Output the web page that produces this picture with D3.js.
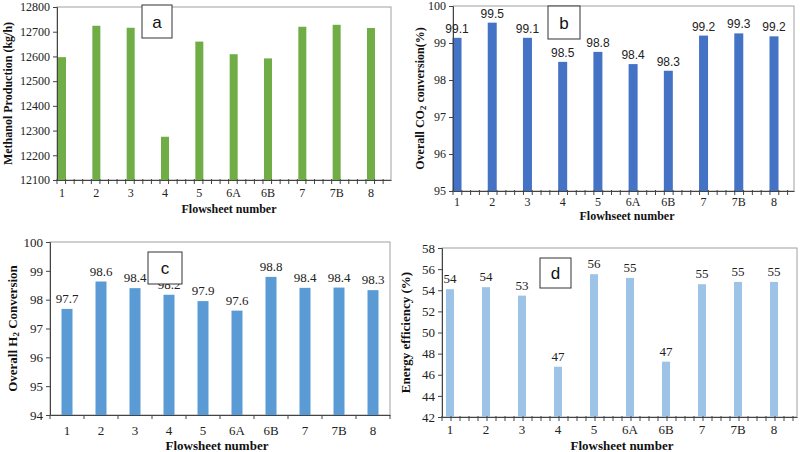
<!DOCTYPE html>
<html>
<head>
<meta charset="utf-8">
<script src="https://cdn.jsdelivr.net/npm/d3@7"></script>
<style>
  body { margin: 0; background: #fff; }
  svg { display: block; }
  .serif { font-family: "Liberation Serif", "Times New Roman", serif; }
  .sans { font-family: "Liberation Sans", Arial, sans-serif; }
</style>
</head>
<body>
<svg id="chart" width="800" height="452"></svg>
<script>
// flowsheet categories shared by all four panels
var flowsheets = ['1', '2', '3', '4', '5', '6A', '6B', '7', '7B', '8'];

// panel a - methanol production (kg/h)
var methanol = [12597, 12724, 12716, 12275, 12660, 12609, 12592, 12720, 12728, 12715];
// panel b - overall CO2 conversion (%)
var co2Conv = [99.14, 99.55, 99.14, 98.49, 98.76, 98.43, 98.25, 99.2, 99.26, 99.18];
var co2Labels = ['99.1', '99.5', '99.1', '98.5', '98.8', '98.4', '98.3', '99.2', '99.3', '99.2'];
// panel c - overall H2 conversion
var h2Conv = [97.68, 98.63, 98.4, 98.17, 97.95, 97.62, 98.79, 98.41, 98.42, 98.33];
var h2Labels = ['97.7', '98.6', '98.4', '98.2', '97.9', '97.6', '98.8', '98.4', '98.4', '98.3'];
// panel d - energy efficiency (%)
var energyEff = [54.1, 54.29, 53.49, 46.76, 55.52, 55.17, 47.24, 54.57, 54.79, 54.79];
var energyLabels = ['54', '54', '53', '47', '56', '55', '47', '55', '55', '55'];

var yTicksA = d3.range(12100, 12801, 100);
var yTicksB = d3.range(95, 101, 1);
var yTicksC = d3.range(94, 101, 1);
var yTicksD = d3.range(42, 59, 2);

var svg = d3.select('#chart');

/**
 * Draws one bar panel
 * @param  {Object} o - panel options
 */
function drawPanel (o) {
  var g = svg.append('g');

  var y = d3.scaleLinear().domain(o.yDomain).range([o.bottom, o.top]);
  var x;
  if (o.band) {
    var band = d3.scaleBand().domain(flowsheets).range([o.left, o.right]);
    x = function (d, i) { return band(flowsheets[i]) + band.bandwidth() / 2; };
  } else {
    var lin = d3.scaleLinear().domain(o.xDomain).range([o.left, o.right]);
    x = function (d, i) { return lin(i); };
  }

  // frame
  g.append('rect')
      .attr('x', o.left).attr('y', o.top)
      .attr('width', o.right - o.left).attr('height', o.bottom - o.top)
      .attr('fill', 'none').attr('stroke', '#a0a0a0').attr('stroke-width', 1);

  // bars
  g.selectAll('rect.bar')
      .data(o.values)
      .enter()
      .append('rect')
      .attr('class', 'bar')
      .attr('x', function (d, i) { return x(d, i) - o.barWidth / 2; })
      .attr('y', function (d) { return y(d); })
      .attr('width', o.barWidth)
      .attr('height', function (d) { return o.bottom - y(d); })
      .attr('fill', o.color);

  // y axis
  var yAxis = d3.axisLeft(y).tickValues(o.yTicks).tickSize(4).tickPadding(3)
      .tickFormat(d3.format('d'));
  var ya = g.append('g')
      .attr('transform', 'translate(' + o.left + ',0)')
      .call(yAxis);
  ya.select('.domain').attr('stroke', '#444');
  ya.selectAll('.tick line').attr('stroke', '#444');
  ya.selectAll('text')
      .attr('class', 'serif')
      .style('font-size', o.tickFont + 'px')
      .attr('fill', '#222');

  // x axis
  var xa = g.append('g')
      .attr('transform', 'translate(0,' + o.bottom + ')');
  if (o.band) {
    xa.call(d3.axisBottom(band).tickSize(0).tickPadding(11));
    xa.selectAll('.tick text').attr('x', 0);
    var edges = flowsheets.map(function (f) { return band(f); }).concat([o.right]);
    xa.selectAll('line.minor')
        .data(edges).enter().append('line')
        .attr('x1', function (d) { return d; }).attr('x2', function (d) { return d; })
        .attr('y1', 0).attr('y2', 4).attr('stroke', '#444');
  } else {
    var minor = d3.range(o.xDomain[0], o.xDomain[1], 0.25);
    xa.call(d3.axisBottom(lin).tickValues([]).tickSizeOuter(0));
    xa.selectAll('line.minor')
        .data(minor).enter().append('line')
        .attr('x1', function (d) { return lin(d); }).attr('x2', function (d) { return lin(d); })
        .attr('y1', -1).attr('y2', 4).attr('stroke', '#444');
    xa.selectAll('text.cat')
        .data(flowsheets).enter().append('text')
        .attr('class', 'cat serif')
        .attr('x', function (d, i) { return lin(i); })
        .attr('y', o.catOffset)
        .attr('text-anchor', 'middle')
        .style('font-size', o.tickFont + 'px')
        .attr('fill', '#222')
        .text(function (d) { return d; });
  }
  xa.select('.domain').attr('stroke', '#444');
  xa.selectAll('.tick text')
      .attr('class', 'serif')
      .style('font-size', o.tickFont + 'px')
      .attr('fill', '#222');

  // value labels
  if (o.labels) {
    g.selectAll('text.val')
        .data(o.labels)
        .enter()
        .append('text')
        .attr('class', 'val ' + o.labelFamily)
        .attr('x', function (d, i) { return x(d, i); })
        .attr('y', function (d, i) { return y(o.values[i]) - o.labelGap; })
        .attr('text-anchor', 'middle')
        .style('font-size', o.labelFont + 'px')
        .attr('fill', '#222')
        .text(function (d) { return d; });
  }

  // axis titles
  g.append('text')
      .attr('class', 'serif')
      .attr('transform', 'translate(' + o.yTitleX + ',' + ((o.top + o.bottom) / 2) + ') rotate(-90)')
      .attr('text-anchor', 'middle')
      .style('font-size', o.titleFont + 'px')
      .style('font-weight', 'bold')
      .attr('fill', '#111')
      .html(o.yTitle);

  g.append('text')
      .attr('class', 'serif')
      .attr('x', o.xTitleX)
      .attr('y', o.xTitleY)
      .attr('text-anchor', 'middle')
      .style('font-size', o.titleFont + 'px')
      .style('font-weight', 'bold')
      .attr('fill', '#111')
      .text(o.xTitle);

  // panel letter box
  g.append('rect')
      .attr('x', o.box[0]).attr('y', o.box[1])
      .attr('width', o.box[2]).attr('height', o.box[3])
      .attr('fill', '#fff').attr('stroke', '#333').attr('stroke-width', 1);
  g.append('text')
      .attr('class', 'sans')
      .attr('x', o.box[0] + o.box[2] / 2)
      .attr('y', o.box[1] + o.box[3] / 2 + 6)
      .attr('text-anchor', 'middle')
      .style('font-size', '17px')
      .attr('fill', '#111')
      .text(o.letter);
}

drawPanel({
  values: methanol, color: '#70ad47', barWidth: 8,
  left: 57, right: 391, top: 7, bottom: 180,
  xDomain: [-0.146, 9.583], yDomain: [12100, 12800], yTicks: yTicksA,
  tickFont: 12, catOffset: 17, titleFont: 12,
  yTitle: 'Methanol Production (kg/h)', yTitleX: 12,
  xTitle: 'Flowsheet number', xTitleX: 229, xTitleY: 213,
  box: [142, 5, 30, 33], letter: 'a'
});

drawPanel({
  values: co2Conv, color: '#4472c4', barWidth: 9,
  left: 453, right: 794, top: 6, bottom: 191,
  xDomain: [-0.114, 9.568], yDomain: [95, 100], yTicks: yTicksB,
  tickFont: 12, catOffset: 15, titleFont: 12,
  labels: co2Labels, labelFamily: 'sans', labelFont: 12, labelGap: 5,
  yTitle: 'Overall CO<tspan baseline-shift="-20%" font-size="9">2</tspan> conversion(%)', yTitleX: 424,
  xTitle: 'Flowhseet number', xTitleX: 627, xTitleY: 220,
  box: [548, 6, 32, 33], letter: 'b'
});

drawPanel({
  values: h2Conv, color: '#5b9bd5', barWidth: 11, band: true,
  left: 50, right: 390, top: 242, bottom: 415,
  yDomain: [94, 100], yTicks: yTicksC,
  tickFont: 13, titleFont: 13,
  labels: h2Labels, labelFamily: 'serif', labelFont: 13, labelGap: 6,
  yTitle: 'Overall H<tspan baseline-shift="-20%" font-size="9">2</tspan> Conversion', yTitleX: 17,
  xTitle: 'Flowsheet number', xTitleX: 217, xTitleY: 450,
  box: [148, 252, 34, 32], letter: 'c'
});

drawPanel({
  values: energyEff, color: '#9dc3e6', barWidth: 8,
  left: 442, right: 797, top: 248, bottom: 417,
  xDomain: [-0.222, 9.639], yDomain: [42, 58], yTicks: yTicksD,
  tickFont: 13, catOffset: 17, titleFont: 13,
  labels: energyLabels, labelFamily: 'serif', labelFont: 13, labelGap: 6,
  yTitle: 'Energy efficiency (%)', yTitleX: 410,
  xTitle: 'Flowsheet number', xTitleX: 622, xTitleY: 450,
  box: [540, 258, 31, 30], letter: 'd'
});
</script>
</body>
</html>
